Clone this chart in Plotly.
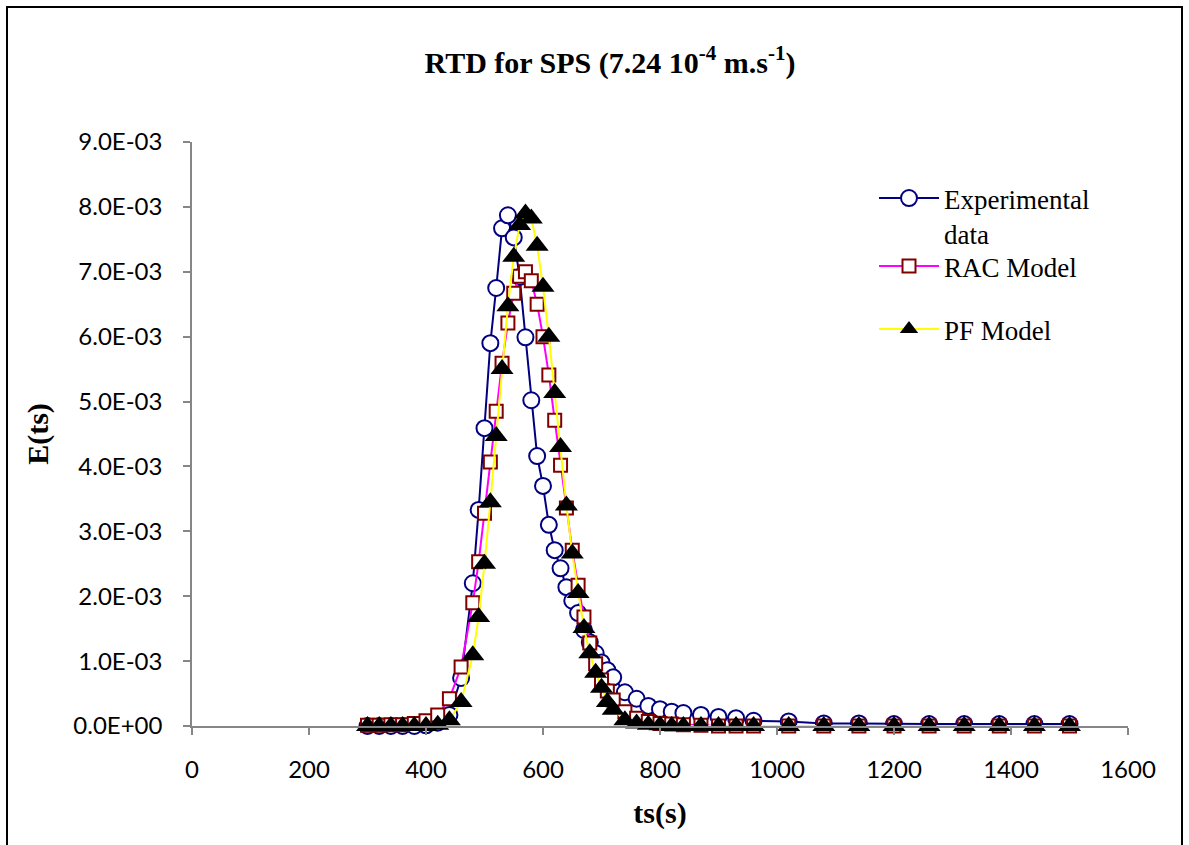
import plotly.graph_objects as go

# ---- data -------------------------------------------------------------
ts = [300, 320, 340, 360, 380, 400, 420, 440, 460,
      480, 490, 500, 510, 520, 530, 540, 550, 560, 570, 580, 590, 600,
      610, 620, 630, 640, 650, 660, 670, 680, 690, 700, 710, 720,
      740, 760, 780, 800, 820, 840, 870, 900, 930, 960,
      1020, 1080, 1140, 1200, 1260, 1320, 1380, 1440, 1500]

experimental = [0.0, 0.0, 0.0, 0.0, 0.0, 0.01, 0.05, 0.17, 0.74,
                2.20, 3.33, 4.59, 5.90, 6.75, 7.67, 7.87, 7.53, 6.92, 5.99, 5.02, 4.16, 3.70,
                3.10, 2.71, 2.43, 2.14, 1.93, 1.74, 1.48, 1.29, 1.12, 0.98, 0.86, 0.75,
                0.52, 0.42, 0.31, 0.26, 0.22, 0.20, 0.17, 0.14, 0.12, 0.08,
                0.07, 0.04, 0.04, 0.03, 0.03, 0.03, 0.03, 0.03, 0.03]

rac_model = [0.01, 0.01, 0.02, 0.02, 0.04, 0.08, 0.17, 0.42, 0.91,
             1.90, 2.53, 3.28, 4.07, 4.85, 5.59, 6.21, 6.67, 6.93, 7.00, 6.86, 6.50, 6.00,
             5.41, 4.71, 4.02, 3.36, 2.71, 2.17, 1.68, 1.28, 0.96, 0.71, 0.54, 0.40,
             0.22, 0.12, 0.07, 0.04, 0.03, 0.02, 0.01, 0.0, 0.0, 0.0,
             0.0, 0.0, 0.0, 0.0, 0.0, 0.0, 0.0, 0.0, 0.0]

pf_model = [0.0, 0.0, 0.0, 0.0, 0.0, 0.0, 0.02, 0.09, 0.37,
            1.09, 1.68, 2.50, 3.45, 4.47, 5.50, 6.47, 7.23, 7.72, 7.90, 7.82, 7.40, 6.77,
            6.00, 5.13, 4.30, 3.40, 2.66, 2.05, 1.51, 1.12, 0.82, 0.59, 0.37, 0.25,
            0.09, 0.04, 0.02, 0.01, 0.0, 0.0, 0.0, 0.0, 0.0, 0.0,
            0.0, 0.0, 0.0, 0.0, 0.0, 0.0, 0.0, 0.0, 0.0]

scale = 1e-3
y_tick_vals = [0, 1e-3, 2e-3, 3e-3, 4e-3, 5e-3, 6e-3, 7e-3, 8e-3, 9e-3]
y_tick_text = ["0.0E+00", "1.0E-03", "2.0E-03", "3.0E-03", "4.0E-03",
               "5.0E-03", "6.0E-03", "7.0E-03", "8.0E-03", "9.0E-03"]
x_tick_vals = [0, 200, 400, 600, 800, 1000, 1200, 1400, 1600]

# ---- layout geometry (pixels) ------------------------------------------
W, H = 1189, 845
L, R, T, B = 192, 61, 142, 119
PW, PH = W - L - R, H - T - B


def px_x(px):
    return (px - L) / PW


def px_y(py):
    return (H - B - py) / PH


fig = go.Figure()

fig.add_trace(go.Scatter(
    x=ts, y=[v * scale for v in experimental], name="Experimental<br>data",
    mode="lines+markers", legend="legend", showlegend=True,
    line=dict(color="#000080", width=2),
    marker=dict(symbol="circle", size=16, color="white",
                line=dict(color="#000080", width=2)),
    cliponaxis=False,
))
fig.add_trace(go.Scatter(
    x=ts, y=[v * scale for v in rac_model], name="RAC Model",
    mode="lines+markers", legend="legend2", showlegend=True,
    line=dict(color="#FF00FF", width=2),
    marker=dict(symbol="square", size=13, color="white",
                line=dict(color="#800000", width=2)),
    cliponaxis=False,
))
fig.add_trace(go.Scatter(
    x=ts, y=[v * scale for v in pf_model], name="PF Model",
    mode="lines+markers", legend="legend3", showlegend=True,
    line=dict(color="#FFFF00", width=2),
    marker=dict(symbol="triangle-up", size=20, color="black",
                line=dict(color="black", width=0)),
    cliponaxis=False,
))

axis_font = dict(family="Lato", size=24, color="black")
legend_font = dict(family="Liberation Serif", size=27, color="black")
common_legend = dict(xanchor="left", yanchor="top", bgcolor="rgba(0,0,0,0)",
                     font=legend_font, itemwidth=60, valign="top",
                     borderwidth=0, visible=True)

fig.update_layout(
    width=W, height=H,
    showlegend=True,
    margin=dict(l=L, r=R, t=T, b=B, autoexpand=False),
    paper_bgcolor="white", plot_bgcolor="white",
    title=dict(
        text="<b>RTD for SPS (7.24 10<sup>-4</sup> m.s<sup>-1</sup>)</b>",
        font=dict(family="Liberation Serif", size=30, color="black"),
        x=px_x(610), xref="paper", xanchor="center",
        y=1 - 62 / H, yref="container", yanchor="middle",
    ),
    xaxis=dict(
        range=[0, 1600], tickvals=x_tick_vals, showgrid=False, zeroline=False,
        showline=True, linecolor="#868686", linewidth=1.5,
        ticks="outside", ticklen=7, tickcolor="#868686", tickwidth=1.5,
        tickfont=axis_font, ticklabelstandoff=14,
        title=dict(text="<b>ts(s)</b>",
                   font=dict(family="Liberation Serif", size=30, color="black"),
                   standoff=20),
    ),
    yaxis=dict(
        range=[0, 0.009], tickvals=y_tick_vals, ticktext=y_tick_text,
        showgrid=False, zeroline=False,
        showline=True, linecolor="#868686", linewidth=1.5,
        ticks="outside", ticklen=7, tickcolor="#868686", tickwidth=1.5,
        tickfont=axis_font, ticklabelstandoff=16,
        title=dict(text="<b>E(ts)</b>",
                   font=dict(family="Liberation Serif", size=30, color="black"),
                   standoff=16),
    ),
    legend=dict(x=px_x(874), y=px_y(174), **common_legend),
    legend2=dict(x=px_x(874), y=px_y(242), **common_legend),
    legend3=dict(x=px_x(874), y=px_y(305), **common_legend),
    shapes=[dict(type="rect", xref="paper", yref="paper",
                 x0=px_x(7), x1=px_x(1182), y0=px_y(860), y1=px_y(7),
                 line=dict(color="black", width=2), fillcolor="rgba(0,0,0,0)",
                 layer="above")],
)

fig.write_html("out.html")
